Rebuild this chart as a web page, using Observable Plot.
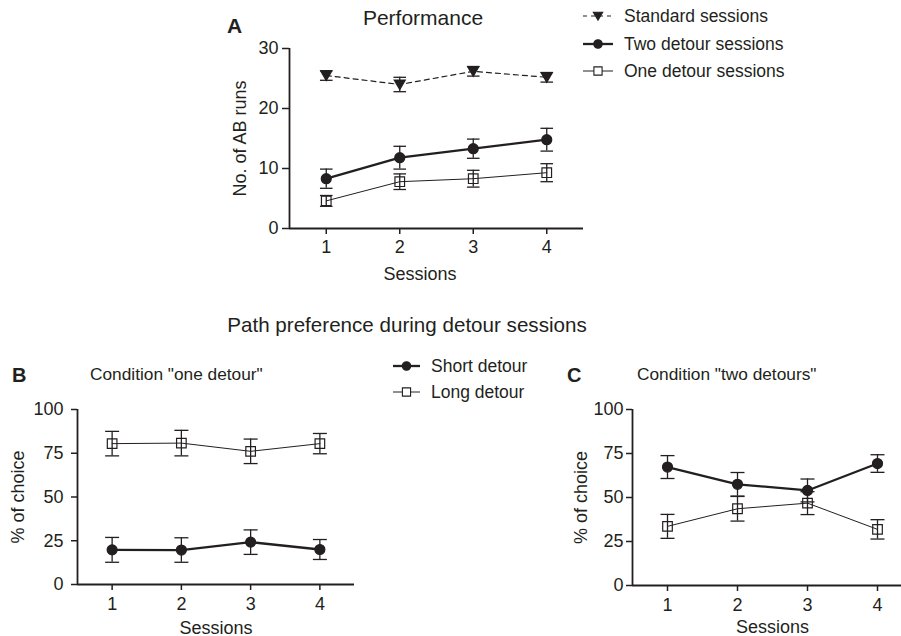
<!DOCTYPE html>
<html>
<head>
<meta charset="utf-8">
<script src="https://cdn.jsdelivr.net/npm/d3@7"></script>
<script src="https://cdn.jsdelivr.net/npm/@observablehq/plot@0.6"></script>
<style>
  html, body { margin: 0; padding: 0; background: #fff; }
  #root { position: relative; width: 901px; height: 636px; overflow: hidden; background: #fff;
          font-family: "Liberation Sans", Arial, Helvetica, sans-serif; color: #231f20; }
  .lbl { position: absolute; white-space: nowrap; }
  #root svg { position: absolute; overflow: visible; }
</style>
</head>
<body>
<div id="root"></div>
<script>
// ---------------- data ----------------
const sessions = [1, 2, 3, 4];
const tickA = [0, 10, 20, 30];
const tickPct = [0, 25, 50, 75, 100];

// Panel A: No. of AB runs (mean, error)
const standardMean  = [25.5, 24.0, 26.2, 25.2];
const standardErr   = [0.8, 1.2, 0.8, 0.8];
const twoDetourMean = [8.3, 11.8, 13.3, 14.8];
const twoDetourErr  = [1.6, 1.9, 1.6, 1.9];
const oneDetourMean = [4.6, 7.8, 8.3, 9.3];
const oneDetourErr  = [0.9, 1.3, 1.4, 1.5];

// Panel B: condition "one detour" (% of choice)
const oneShortMean = [19.8, 19.7, 24.2, 20.0];
const oneShortErr  = [7.1, 7.0, 7.0, 5.7];
const oneLongMean  = [80.5, 80.8, 76.1, 80.5];
const oneLongErr   = [7.0, 7.3, 7.0, 5.8];

// Panel C: condition "two detours" (% of choice)
const twoShortMean = [67.3, 57.5, 54.0, 69.3];
const twoShortErr  = [6.5, 6.7, 6.5, 5.0];
const twoLongMean  = [33.6, 43.6, 46.8, 31.9];
const twoLongErr   = [6.8, 7.0, 6.5, 5.5];

// ---------------- helpers ----------------
const INK = "#231f20";
const FONT = '"Liberation Sans", Arial, Helvetica, sans-serif';
const root = document.getElementById("root");

const capSym = { draw(ctx, size) { const r = Math.sqrt(size / Math.PI); ctx.moveTo(-r, 0); ctx.lineTo(r, 0); } };
const triDown = { draw(ctx, size) { const r = Math.sqrt(size / Math.PI); ctx.moveTo(-r, -r * 0.8); ctx.lineTo(r, -r * 0.8); ctx.lineTo(0, r * 0.9); ctx.closePath(); } };
const sqSym = { draw(ctx, size) { const r = Math.sqrt(size / Math.PI); ctx.rect(-r, -r, 2 * r, 2 * r); } };

const styles = {
  standard: { symbol: triDown, r: 5.5, fill: INK, lw: 1.2, dash: "5,4" },
  two:      { symbol: "circle", r: 5, fill: INK, lw: 2.3, dash: null },
  one:      { symbol: sqSym, r: 4.8, fill: "none", lw: 1, dash: null }
};

function seriesMarks(mean, err, st, capR) {
  const data = sessions.map((s, i) => ({ x: s, y: mean[i], lo: mean[i] - err[i], hi: mean[i] + err[i] }));
  return [
    Plot.line(data, { x: "x", y: "y", stroke: INK, strokeWidth: st.lw, strokeDasharray: st.dash }),
    Plot.ruleX(data, { x: "x", y1: "lo", y2: "hi", stroke: INK, strokeWidth: 1.3 }),
    Plot.dot(data, { x: "x", y: "lo", symbol: capSym, r: capR, fill: "none", stroke: INK, strokeWidth: 1.3 }),
    Plot.dot(data, { x: "x", y: "hi", symbol: capSym, r: capR, fill: "none", stroke: INK, strokeWidth: 1.3 }),
    Plot.dot(data, { x: "x", y: "y", symbol: st.symbol, r: st.r, fill: st.fill, stroke: INK, strokeWidth: 1.2 })
  ];
}

function place(el, left, top) { el.style.left = left + "px"; el.style.top = top + "px"; root.appendChild(el); }

function addText(txt, x, cy, fs, opts = {}) {
  const d = document.createElement("div");
  d.className = "lbl";
  d.textContent = txt;
  d.style.fontSize = fs + "px";
  d.style.lineHeight = fs + "px";
  if (opts.bold) d.style.fontWeight = "bold";
  d.style.top = (cy - fs / 2) + "px";
  d.style.left = x + "px";
  if (opts.center) d.style.transform = "translateX(-50%)";
  root.appendChild(d);
}

const TICKFS = "18px";

// ---------------- Panel A ----------------
const plotA = Plot.plot({
  width: 380, height: 260,
  marginLeft: 69, marginRight: 17, marginTop: 18, marginBottom: 62,
  x: { domain: [0.5, 4.5] },
  y: { domain: [0, 30] },
  style: { fontFamily: FONT, fontSize: TICKFS, color: INK, background: "transparent" },
  marks: [
    Plot.axisX({ ticks: sessions, tickSize: 6, tickPadding: 6, tickFormat: d => String(d), strokeWidth: 1.5, label: null }),
    Plot.axisY({ ticks: tickA, tickSize: 7, tickPadding: 4, tickFormat: d => String(d), strokeWidth: 1.5,
                 label: "No. of AB runs", labelAnchor: "center", labelOffset: 56, labelArrow: "none" }),
    Plot.ruleY([0], { stroke: INK, strokeWidth: 1.8 }),
    Plot.ruleX([0.5], { stroke: INK, strokeWidth: 1.8 }),
    ...seriesMarks(standardMean, standardErr, styles.standard, 6.3),
    ...seriesMarks(oneDetourMean, oneDetourErr, styles.one, 6.3),
    ...seriesMarks(twoDetourMean, twoDetourErr, styles.two, 6.3)
  ]
});
place(plotA, 220, 30);

// ---------------- Panel B ----------------
const plotB = Plot.plot({
  width: 380, height: 246,
  marginLeft: 77, marginRight: 26, marginTop: 19, marginBottom: 52,
  x: { domain: [0.5, 4.5] },
  y: { domain: [0, 100] },
  style: { fontFamily: FONT, fontSize: TICKFS, color: INK, background: "transparent" },
  marks: [
    Plot.axisX({ ticks: sessions, tickSize: 6, tickPadding: 7, tickFormat: d => String(d), strokeWidth: 1.5,
                 label: "Sessions", labelAnchor: "center", labelOffset: 49, labelArrow: "none" }),
    Plot.axisY({ ticks: tickPct, tickSize: 6, tickPadding: 8, tickFormat: d => String(d), strokeWidth: 1.5,
                 label: "% of choice", labelAnchor: "center", labelOffset: 66, labelArrow: "none" }),
    Plot.ruleY([0], { stroke: INK, strokeWidth: 1.8 }),
    Plot.ruleX([0.5], { stroke: INK, strokeWidth: 1.8 }),
    ...seriesMarks(oneLongMean, oneLongErr, styles.one, 7),
    ...seriesMarks(oneShortMean, oneShortErr, styles.two, 7)
  ]
});
place(plotB, 0, 390);

// ---------------- Panel C ----------------
const plotC = Plot.plot({
  width: 380, height: 246,
  marginLeft: 82, marginRight: 18, marginTop: 19, marginBottom: 51,
  x: { domain: [0.5, 4.5] },
  y: { domain: [0, 100] },
  style: { fontFamily: FONT, fontSize: TICKFS, color: INK, background: "transparent" },
  marks: [
    Plot.axisX({ ticks: sessions, tickSize: 6, tickPadding: 7, tickFormat: d => String(d), strokeWidth: 1.5,
                 label: "Sessions", labelAnchor: "center", labelOffset: 47, labelArrow: "none" }),
    Plot.axisY({ ticks: tickPct, tickSize: 6, tickPadding: 3, tickFormat: d => String(d), strokeWidth: 1.5,
                 label: "% of choice", labelAnchor: "center", labelOffset: 58, labelArrow: "none" }),
    Plot.ruleY([0], { stroke: INK, strokeWidth: 1.8 }),
    Plot.ruleX([0.5], { stroke: INK, strokeWidth: 1.8 }),
    ...seriesMarks(twoLongMean, twoLongErr, styles.one, 7),
    ...seriesMarks(twoShortMean, twoShortErr, styles.two, 7)
  ]
});
place(plotC, 550, 390);

// ---------------- texts ----------------
addText("A", 227, 25, 21, { bold: true });
addText("Performance", 423, 17, 21, { center: true });
addText("Sessions", 420, 274, 18, { center: true });
addText("Path preference during detour sessions", 407, 325, 20.6, { center: true });
addText("B", 12, 375, 20, { bold: true });
addText('Condition "one detour"', 90, 375, 17.3);
addText("C", 567, 375, 20, { bold: true });
addText('Condition "two detours"', 637, 375, 17.3);

// ---------------- legends ----------------
const legendA = [
  { label: "Standard sessions", st: styles.standard },
  { label: "Two detour sessions", st: styles.two },
  { label: "One detour sessions", st: styles.one }
];
const legendBC = [
  { label: "Short detour", st: styles.two },
  { label: "Long detour", st: styles.one }
];

function drawLegend(items, x0, ys, sampleW) {
  const ns = "http://www.w3.org/2000/svg";
  const svg = document.createElementNS(ns, "svg");
  svg.setAttribute("width", 260); svg.setAttribute("height", 100);
  svg.style.left = x0 + "px"; svg.style.top = "0px";
  items.forEach((it, i) => {
    const y = ys[i];
    const ln = document.createElementNS(ns, "line");
    ln.setAttribute("x1", 0); ln.setAttribute("x2", sampleW);
    ln.setAttribute("y1", y); ln.setAttribute("y2", y);
    ln.setAttribute("stroke", INK); ln.setAttribute("stroke-width", it.st.lw);
    if (it.st.dash) ln.setAttribute("stroke-dasharray", "4,4");
    svg.appendChild(ln);
    const p = document.createElementNS(ns, "path");
    const sym = typeof it.st.symbol === "string" ? d3.symbolCircle : it.st.symbol;
    const r = it.st.r * 0.85;
    p.setAttribute("d", d3.symbol(sym, r * r * Math.PI)());
    p.setAttribute("transform", `translate(${sampleW / 2},${y})`);
    p.setAttribute("fill", it.st.fill === "none" ? "#fff" : it.st.fill);
    p.setAttribute("stroke", INK); p.setAttribute("stroke-width", 1.1);
    svg.appendChild(p);
    const t = document.createElementNS(ns, "text");
    t.setAttribute("x", sampleW + 11); t.setAttribute("y", y);
    t.setAttribute("dy", "0.36em");
    t.setAttribute("font-family", FONT); t.setAttribute("font-size", "17.5px");
    t.setAttribute("fill", INK);
    t.textContent = it.label;
    svg.appendChild(t);
  });
  root.appendChild(svg);
}
drawLegend(legendA, 583, [16, 44, 71], 30);
drawLegend(legendBC, 393, [366, 392], 27);
</script>
</body>
</html>
